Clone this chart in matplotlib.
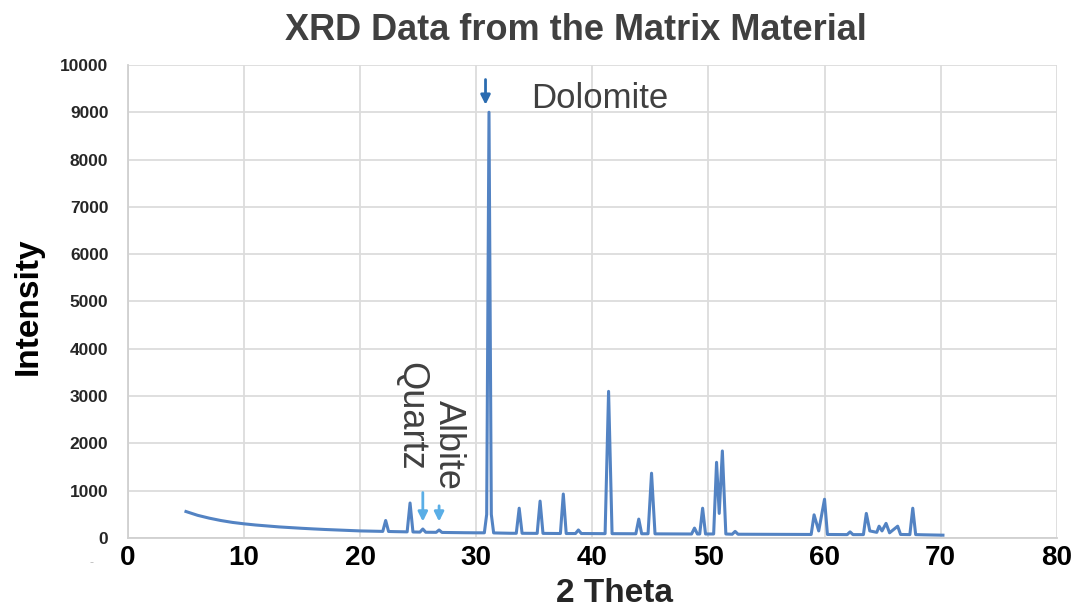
import matplotlib
matplotlib.use('Agg')
import matplotlib.pyplot as plt

# trace: 2 theta (deg) and intensity (counts)
two_theta = [5.0, 5.5, 6.0, 7.0, 8.0, 9.0, 10.0, 11.0, 12.0, 13.0, 14.0, 15.0, 16.0, 17.0, 18.0, 19.0, 20.0, 21.0,
             21.95, 22.2, 22.45, 23.0, 24.05, 24.3, 24.55, 25.15, 25.4, 25.65, 26.55, 26.8, 27.05, 28.0, 29.0, 30.0,
             30.7, 30.9, 31.1, 31.3, 31.5, 32.0, 33.0, 33.45, 33.7, 33.95, 35.25, 35.5, 35.75,
             37.25, 37.5, 37.75, 38.55, 38.8, 39.05, 41.1, 41.4, 41.7, 43.75, 44.0, 44.25, 44.8, 45.1, 45.4,
             48.55, 48.8, 49.05, 49.25, 49.5, 49.75, 50.45, 50.7, 50.93, 51.2, 51.5, 52.05, 52.3, 52.55,
             58.85, 59.1, 59.5, 60.0, 60.25, 61.95, 62.2, 62.45, 63.35, 63.6, 63.9, 64.5, 64.7, 64.95,
             65.3, 65.6, 66.3, 66.55, 67.35, 67.6, 67.85, 68.5, 70.2]
intensity = [560, 520, 480, 420, 370, 330, 300, 275, 255, 235, 220, 205, 192, 180, 170, 160, 150, 145,
             140, 370, 138, 135, 130, 740, 128, 125, 190, 122, 120, 170, 118, 115, 112, 110,
             110, 500, 9000, 500, 108, 105, 100, 100, 630, 100, 98, 780, 98,
             95, 930, 95, 95, 170, 95, 92, 3100, 92, 90, 400, 90, 90, 1370, 88,
             85, 210, 85, 85, 630, 85, 85, 1600, 520, 1840, 85, 80, 140, 80,
             75, 490, 150, 820, 75, 72, 130, 72, 72, 520, 150, 120, 250, 150,
             310, 110, 250, 75, 72, 630, 72, 68, 60]

x_ticks = [0, 10, 20, 30, 40, 50, 60, 70, 80]
y_ticks = [0, 1000, 2000, 3000, 4000, 5000, 6000, 7000, 8000, 9000, 10000]

# phase markers: (arrow x, arrow top, arrow tip)
quartz = (25.4, 1020, 290)
albite = (26.8, 740, 290)
dolomite = (30.8, 9750, 9100)

plt.rcParams['font.family'] = ['Liberation Sans', 'DejaVu Sans']
txt = '#404040'

fig = plt.figure(figsize=(10.75, 6.16), dpi=100)
ax = fig.add_axes([0.119, 0.1266, 0.864, 0.768])

ax.plot(two_theta, intensity, color='#5383c3', linewidth=2.2)

ax.set_xlim(0, 80)
ax.set_ylim(0, 10000)
ax.set_xticks(x_ticks)
ax.set_yticks(y_ticks)
ax.set_xticklabels([str(t) for t in x_ticks], fontsize=20, fontweight='bold', color='black')
ax.set_yticklabels([str(t) for t in y_ticks], fontsize=12.5, fontweight='bold', color='#262626')
ax.tick_params(axis='both', length=0)
ax.tick_params(axis='y', pad=14)
ax.tick_params(axis='x', pad=5)
ax.grid(True, color='#dcdcdc', linewidth=1.3)
ax.set_axisbelow(True)
for s in ['top', 'right']:
    ax.spines[s].set_visible(False)
for s in ['left', 'bottom']:
    ax.spines[s].set_color('#d0d0d0')
    ax.spines[s].set_linewidth(1.3)

ax.set_ylabel('Intensity', fontsize=24, fontweight='bold', color='black')
ax.yaxis.set_label_coords(-0.091, 0.49)
ax.set_xlabel('2 Theta', fontsize=24, fontweight='bold', color='#262626')
ax.xaxis.set_label_coords(0.524, -0.085)

fig.text(576 / 1075, 1 - 30 / 616, 'XRD Data from the Matrix Material', fontsize=26,
         fontweight='bold', color=txt, ha='center', va='center')
fig.text(92 / 1075, 1 - 563 / 616, '-', fontsize=9, color='#bbbbbb', ha='center', va='center')

# arrows
for (xa, y0, y1), c in [(quartz, '#5aaee6'), (albite, '#5aaee6'), (dolomite, '#2b6cb0')]:
    ax.annotate('', xy=(xa, y1), xytext=(xa, y0),
                arrowprops=dict(arrowstyle='-|>', color=c, lw=2, mutation_scale=14))

ax.text(34.7, 9280, 'Dolomite', fontsize=25, color=txt, ha='left', va='center')
ax.text(24.4, 2570, 'Quartz', fontsize=26, color=txt, rotation=270, ha='center', va='center')
ax.text(27.6, 1960, 'Albite', fontsize=26, color=txt, rotation=270, ha='center', va='center')

fig.savefig('out.png', dpi=100)
